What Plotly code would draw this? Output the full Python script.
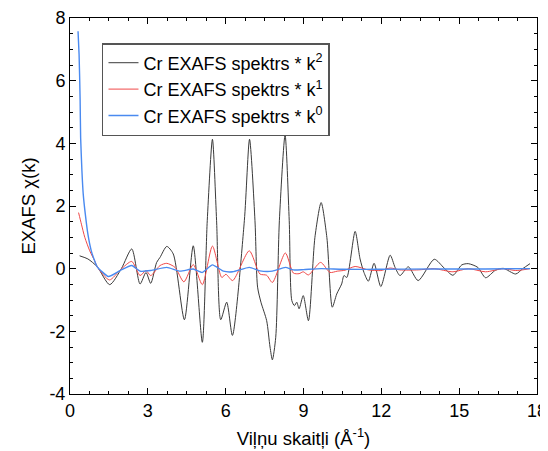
import plotly.graph_objects as go

# k^2 weighted spectrum
k2_x = [0.37, 0.69, 1.05, 1.53, 1.98, 2.38, 2.70, 2.93, 3.11, 3.34, 3.47, 3.73, 3.98,
        4.41, 4.75, 5.10, 5.29, 5.49, 5.65, 5.81, 6.04, 6.26, 6.72, 6.92, 7.13, 7.23,
        7.36, 7.58, 7.71, 7.80, 7.93, 8.07, 8.29, 8.45, 8.55, 8.65, 8.74, 8.83, 8.99,
        9.19, 9.44, 9.68, 9.90, 10.11, 10.28, 10.47, 10.56, 10.67, 10.99, 11.18, 11.33,
        11.50, 11.72, 11.98, 12.34, 12.53, 12.72, 13.04, 13.42, 14.04, 14.42, 14.76,
        15.10, 15.35, 15.72, 16.02, 16.40, 16.70, 17.18, 17.45, 17.73]
k2_y = [0.41, 0.31, 0.06, -0.51, 0.00, 0.63, -0.49, -0.12, -0.47, 0.20, 0.36, 0.71, 0.47,
        -1.63, 0.73, -2.35, 1.53, 4.13, 1.53, -1.63, -1.07, -2.13, 1.53, 4.13, 1.53, -0.59,
        -1.07, -1.66, -2.50, -2.91, -2.19, 1.53, 4.27, 1.53, -1.02, -1.18, -1.07, -1.28, -0.86,
        -1.66, 1.00, 2.11, 1.00, -1.23, -0.81, -0.49, -0.22, -0.28, 1.19, 0.31, -0.12,
        -0.40, 0.17, -0.57, 0.43, 0.04, -0.22, 0.06, -0.38, 0.30, 0.02, -0.21,
        0.12, 0.16, 0.04, -0.29, -0.05, 0.01, -0.17, 0.00, 0.16]

# k^1 weighted spectrum
k1_x = [0.33, 0.44, 0.57, 0.76, 0.95, 1.05, 1.52, 1.95, 2.38, 2.70, 2.93, 3.11, 3.47,
        3.73, 4.05, 4.39, 4.75, 5.10, 5.49, 5.85, 6.01, 6.27, 6.91, 7.32, 7.58, 7.80,
        8.30, 8.61, 8.83, 8.99, 9.19, 9.66, 10.02, 10.30, 10.60, 10.99, 11.50, 11.98,
        12.34, 12.72, 13.42, 14.04, 14.76, 15.35, 16.02, 16.70, 17.18, 17.73]
k1_y = [1.79, 1.42, 1.00, 0.57, 0.25, 0.06, -0.36, -0.03, 0.23, -0.22, -0.06, -0.22, 0.10,
        0.17, 0.04, -0.42, 0.13, -0.51, 0.72, -0.28, -0.18, -0.38, 0.57, -0.17, -0.21, -0.44,
        0.50, -0.14, -0.16, -0.10, -0.20, 0.20, -0.12, -0.08, -0.05, 0.07, -0.04, -0.06,
        0.02, -0.04, -0.04, 0.00, -0.10, 0.00, -0.10, 0.00, -0.06, 0.00]

# k^0 weighted spectrum
k0_x = [0.31, 0.35, 0.39, 0.41, 0.46, 0.51, 0.59, 0.69, 0.82, 0.95, 1.05, 1.48, 1.93,
        2.38, 2.70, 3.11, 3.73, 4.24, 4.75, 5.10, 5.49, 5.91, 6.27, 6.91, 7.32, 7.80,
        8.30, 8.61, 9.00, 9.68, 10.50, 12.00, 14.00, 16.00, 17.73]
k0_y = [7.58, 6.84, 5.40, 4.18, 3.12, 2.38, 1.74, 1.10, 0.57, 0.25, 0.06, -0.25, -0.06,
        0.10, -0.08, -0.06, 0.04, -0.08, -0.01, -0.12, 0.12, -0.08, -0.10, 0.04, -0.07, -0.08,
        0.04, -0.04, -0.03, 0.00, -0.02, -0.02, -0.01, -0.01, 0.00]

names = ["Cr EXAFS spektrs * k<sup>2</sup>",
         "Cr EXAFS spektrs * k<sup>1</sup>",
         "Cr EXAFS spektrs * k<sup>0</sup>"]

x_ticks = [0, 3, 6, 9, 12, 15, 18]
x_labels = ["0", "3", "6", "9", "12", "15", "18"]
y_ticks = [-4, -2, 0, 2, 4, 6, 8]
y_labels = ["-4", "-2", "0", "2", "4", "6", "8"]

fig = go.Figure()
fig.add_trace(go.Scatter(x=k2_x, y=k2_y, mode="lines", name=names[0],
                         line=dict(color="#3a3a3a", width=1, shape="spline", smoothing=0.7)))
fig.add_trace(go.Scatter(x=k1_x, y=k1_y, mode="lines", name=names[1],
                         line=dict(color="#f04848", width=1, shape="spline", smoothing=0.7)))
fig.add_trace(go.Scatter(x=k0_x, y=k0_y, mode="lines", name=names[2],
                         line=dict(color="#4a8af0", width=1.4, shape="spline", smoothing=0.5)))

FONT = "Liberation Sans, Arial"
axis_common = dict(showline=True, linecolor="black", linewidth=1, mirror="allticks",
                   ticks="inside", ticklen=6, tickcolor="black", tickwidth=1,
                   showgrid=False, zeroline=False, automargin=False,
                   tickfont=dict(family=FONT, size=18, color="black"))

fig.update_layout(
    width=540, height=443,
    margin=dict(l=62, r=11, t=10, b=57),
    plot_bgcolor="white", paper_bgcolor="white",
    font=dict(family=FONT, size=18, color="black"),
    xaxis=dict(range=[0, 18], tickvals=x_ticks, ticktext=x_labels,
               minor=dict(dtick=0.75, ticks="inside", ticklen=3, tickcolor="black"),
               title=dict(text="Viļņu skaitļi (Å<sup>-1</sup>)", font=dict(size=18.5), standoff=12),
               **axis_common),
    yaxis=dict(range=[-4, 8], tickvals=y_ticks, ticktext=y_labels,
               minor=dict(dtick=0.5, ticks="inside", ticklen=3, tickcolor="black"),
               title=dict(text="EXAFS χ(k)", font=dict(size=18.5), standoff=8),
               **axis_common),
    legend=dict(x=0.0685, y=0.9335, xanchor="left", yanchor="top",
                bordercolor="#555555", borderwidth=1.5, bgcolor="white",
                font=dict(size=18)),
    showlegend=True,
)

fig.write_html("out.html")
